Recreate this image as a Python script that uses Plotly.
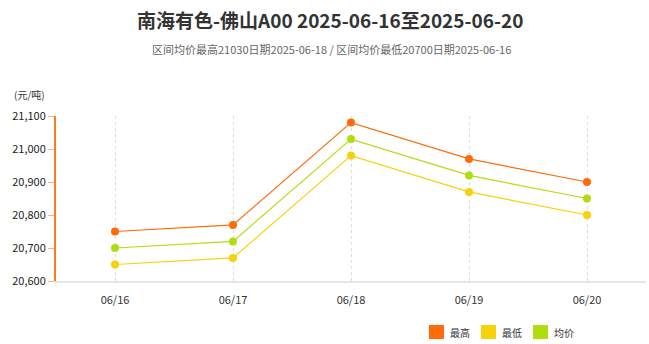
import plotly.graph_objects as go

dates = ["06/16", "06/17", "06/18", "06/19", "06/20"]
high = [20750, 20770, 21080, 20970, 20900]
low = [20650, 20670, 20980, 20870, 20800]
avg = [20700, 20720, 21030, 20920, 20850]
y_ticks = [20600, 20700, 20800, 20900, 21000, 21100]
series_names = ["最高", "最低", "均价"]

c_high = "#FF6A0A"
c_low = "#F9D10A"
c_avg = "#B2DC12"
colors = [c_high, c_low, c_avg]

L, R, T, B = 56, 3, 116, 63
W, H = 649, 344
pw = W - L - R
ph = H - T - B


def px(x):
    return (x - L) / pw


def py(y):
    return (H - B - y) / ph


fig = go.Figure()
for name, vals, col in zip(series_names, [high, low, avg], colors):
    fig.add_trace(go.Scatter(x=dates, y=vals, mode="lines+markers", name=name,
                             line=dict(color=col, width=1.2),
                             marker=dict(color=col, size=8), showlegend=False,
                             cliponaxis=False))

fig.update_layout(
    width=W, height=H,
    margin=dict(l=L, r=R, t=T, b=B),
    paper_bgcolor="white", plot_bgcolor="white",
    font=dict(family="Noto Sans CJK SC, sans-serif", color="#333"),
    showlegend=False,
    xaxis=dict(type="category", range=[-0.5, 4.5], showgrid=True,
               gridcolor="#dddddd", griddash="dot", gridwidth=1,
               showline=True, linecolor="#e6e6e6", linewidth=2,
               ticks="", tickfont=dict(size=11, color="#333"), zeroline=False,
               ticklabelstandoff=8),
    yaxis=dict(range=[20600, 21100], tickvals=y_ticks, tickformat=",",
               showgrid=False, showline=True, linecolor="#FF7A1A", linewidth=2,
               ticks="outside", ticklen=6, tickcolor="#FFB27A",
               tickfont=dict(size=11, color="#222"), zeroline=False),
)

fig.add_annotation(text="<b>南海有色-佛山A00 2025-06-16至2025-06-20</b>",
                   xref="paper", yref="paper", x=px(330), y=1, yshift=97,
                   xanchor="center", yanchor="middle", showarrow=False,
                   font=dict(size=19, color="#333"))
fig.add_annotation(text="区间均价最高21030日期2025-06-18 / 区间均价最低20700日期2025-06-16",
                   xref="paper", yref="paper", x=px(331), y=1, yshift=67,
                   xanchor="center", yanchor="middle", showarrow=False,
                   font=dict(size=11, color="#666"))
fig.add_annotation(text="(元/吨)", xref="paper", yref="paper", x=0, xshift=-44,
                   y=1, yshift=22, xanchor="left", yanchor="middle",
                   showarrow=False, font=dict(size=10, color="#333"))

# manual legend
leg_x = [429, 481, 533]
for x0, name, col in zip(leg_x, series_names, colors):
    fig.add_shape(type="rect", xref="paper", yref="paper",
                  x0=px(x0), x1=px(x0 + 15), y0=py(339), y1=py(325),
                  fillcolor=col, line=dict(width=0))
    fig.add_annotation(text=name, xref="paper", yref="paper",
                       x=px(x0 + 19), y=py(332), xanchor="left", yanchor="middle",
                       showarrow=False, font=dict(size=10, color="#333"))

fig.write_html("out.html")
